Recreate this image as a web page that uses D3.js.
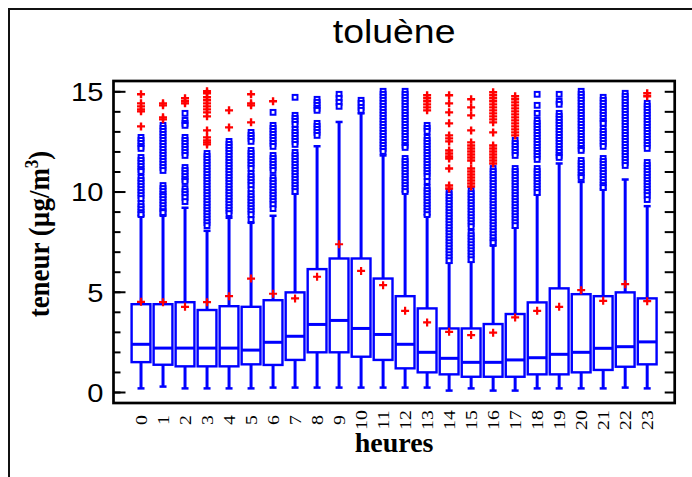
<!DOCTYPE html>
<html>
<head>
<meta charset="utf-8">
<script src="https://cdn.jsdelivr.net/npm/d3@7"></script>
<style>
  html, body { margin: 0; padding: 0; background: #fff; }
  svg { display: block; }
</style>
</head>
<body>
<script>
// Hourly toluene concentrations (µg/m³): box-and-whisker summary per hour of day
const hours = ["0","1","2","3","4","5","6","7","8","9","10","11","12","13","14","15","16","17","18","19","20","21","22","23"];

const whiskerLow  = [0.18,0.27,0.18,0.18,0.18,0.18,0.22,0.22,0.22,0.22,0.22,0.22,0.22,0.22,0.07,0.18,0.07,0.07,0.18,0.18,0.18,0.18,0.22,0.18];
const q1          = [1.49,1.36,1.28,1.28,1.28,1.38,1.35,1.60,1.98,1.98,1.76,1.60,1.18,0.98,0.88,0.76,0.76,0.76,0.88,0.88,0.98,1.10,1.26,1.38];
const median      = [2.38,2.19,2.19,2.19,2.19,2.09,2.48,2.78,3.37,3.57,3.17,2.87,2.38,1.98,1.68,1.48,1.48,1.60,1.71,1.88,1.98,2.18,2.26,2.50];
const q3          = [4.38,4.38,4.48,4.09,4.28,4.25,4.58,4.97,6.13,6.66,6.66,5.66,4.78,4.17,3.17,3.17,3.39,3.89,4.47,5.17,4.88,4.78,4.97,4.67];
const whiskerHigh = [8.79,8.79,9.19,8.04,8.69,8.44,8.79,9.90,12.26,13.47,13.90,11.80,9.98,8.82,6.45,6.50,7.30,8.20,9.85,11.40,10.48,10.10,10.60,9.27];
const means       = [4.50,4.48,4.25,4.48,4.78,5.66,4.90,4.67,5.75,7.37,6.04,5.33,4.05,3.47,3.00,2.84,2.96,3.72,4.05,4.25,5.08,4.55,5.38,4.53];

// outliers beyond 1.5 IQR (hollow squares)
const outliers = [
  [12.7,12.55,12.4,12.25,12.15,11.7,11.55,11.4,11.25,11.1,11.0,10.7,10.55,10.4,10.25,10.1,9.95,9.8,9.65,9.4,9.25,9.1,8.95,8.85],
  [13.3,13.15,13.0,12.85,12.7,12.55,12.4,12.25,12.1,11.95,11.8,11.65,11.5,11.35,11.2,11.05,10.3,10.15,10.0,9.85,9.75,9.6,9.45,9.3,9.15,9.0,8.95],
  [13.9,13.55,13.4,13.3,12.7,12.55,12.4,12.25,12.1,11.95,11.8,11.2,11.05,10.9,10.75,10.6,10.5,10.15,10.0,9.85,9.7,9.5],
  [11.9,11.75,11.6,11.45,11.3,11.15,11.0,10.85,10.7,10.55,10.4,10.25,10.1,9.95,9.8,9.65,9.5,9.35,9.2,9.05,8.9,8.75,8.6,8.45,8.3],
  [12.5,12.35,12.2,12.05,11.9,11.75,11.6,11.45,11.3,11.15,11.0,10.85,10.7,10.55,10.4,10.25,10.1,9.95,9.8,9.65,9.5,9.35,9.2,9.05,8.9],
  [12.95,12.8,12.65,12.5,12.05,11.9,11.75,11.6,11.45,11.3,11.15,10.9,10.75,10.6,10.45,10.3,10.1,9.9,9.75,9.6,9.45,9.3,9.15,9.0,8.85,8.6],
  [13.95,13.3,13.15,13.0,12.85,12.7,12.55,12.4,12.25,11.8,11.65,11.5,11.35,11.2,11.05,10.7,10.55,10.4,10.25,10.1,9.95,9.8,9.65,9.5,9.35,9.15],
  [14.7,13.8,13.65,13.5,13.35,13.1,12.95,12.8,12.65,12.5,12.35,11.95,11.8,11.65,11.5,11.35,11.2,11.05,10.9,10.75,10.6,10.45,10.3,10.15,10.0],
  [14.6,14.45,14.3,14.15,14.05,13.4,13.25,13.1,12.95,12.8],
  [14.85,14.65,14.45,14.25],
  [14.55,14.4,14.2,14.05],
  [15.0,14.85,14.7,14.55,14.4,14.25,14.1,13.95,13.8,13.65,13.5,13.35,13.2,13.05,12.9,12.75,12.6,12.45,12.3,12.15,12.0],
  [15.0,14.85,14.7,14.55,14.4,14.25,14.1,13.95,13.8,13.65,13.5,13.35,13.2,13.05,12.9,12.75,12.6,12.45,12.3,12.2,11.65,11.5,11.35,11.2,11.05,10.9,10.75,10.6,10.45,10.3,10.15,10.0],
  [13.3,13.15,13.0,12.7,12.55,12.4,12.25,12.1,11.95,11.8,11.65,11.5,11.35,11.2,11.05,10.9,10.75,10.5,10.2,10.05,9.9,9.75,9.6,9.45,9.3,9.15,9.0,8.85],
  [10.0,9.85,9.7,9.55,9.4,9.25,9.1,8.95,8.8,8.65,8.5,8.35,8.2,8.05,7.9,7.75,7.6,7.45,7.3,7.15,7.0,6.85,6.7,6.55],
  [10.05,9.9,9.75,9.6,9.45,9.3,9.15,9.0,8.85,8.7,8.55,8.4,8.25,7.95,7.8,7.65,7.5,7.35,7.2,7.05,6.9,6.75,6.6],
  [11.15,11.0,10.85,10.7,10.55,10.4,10.25,10.1,9.95,9.8,9.65,9.5,9.35,9.2,9.05,8.9,8.75,8.6,8.45,8.3,8.15,8.0,7.85,7.7,7.55,7.45],
  [12.55,12.4,12.25,12.1,11.95,11.8,11.15,11.0,10.85,10.7,10.55,10.4,10.25,10.1,9.95,9.8,9.65,9.5,9.35,9.2,9.05,8.9,8.75,8.6,8.45,8.3],
  [14.85,14.3,13.9,13.55,13.4,13.25,13.1,12.95,12.8,12.65,12.5,12.35,12.2,12.05,11.9,11.75,11.6,11.15,11.0,10.85,10.7,10.55,10.4,10.25,10.1,9.95],
  [14.85,14.5,14.35,13.9,13.75,13.6,13.45,13.3,13.15,13.0,12.85,12.7,12.55,12.4,12.25,12.1,11.95,11.8,11.7],
  [15.0,14.85,14.7,14.55,14.4,14.25,14.1,13.95,13.8,13.65,13.5,13.35,13.2,13.05,12.9,12.75,12.6,12.45,12.3,12.15,12.05,11.55,11.4,11.25,11.1,10.95,10.8,10.7],
  [14.7,14.55,14.4,14.25,14.1,13.95,13.8,13.65,13.5,13.4,13.15,13.0,12.85,12.7,12.55,12.4,12.25,11.65,11.5,11.35,11.2,11.05,10.9,10.75,10.6,10.45,10.3,10.2],
  [14.9,14.75,14.6,14.45,14.3,14.15,14.0,13.85,13.7,13.55,13.4,13.25,13.1,12.95,12.8,12.65,12.5,12.35,12.2,12.05,11.9,11.75,11.6,11.45,11.3],
  [14.4,14.25,14.1,13.95,13.8,13.65,13.5,13.35,13.2,13.05,12.9,12.75,12.6,12.45,12.3,12.15,11.45,11.3,11.15,11.0,10.85,10.7,10.55,10.4,10.25,10.1,9.95,9.8,9.6]
];

// extreme outliers beyond 3 IQR (red crosses)
const farOutliers = [
  [13.25,14.0,14.1,14.25,14.4,14.85],
  [13.6,13.7,14.3,14.4],
  [14.4,14.5,14.65],
  [15.0,14.9,14.7,14.55,14.4,14.25,14.1,13.95,13.75,13.05,12.7,12.55,12.45,12.35],
  [14.05,13.2],
  [14.85,14.4,14.3,13.45],
  [14.5],
  [], [], [], [], [],
  [],
  [14.8,14.65,14.5,14.35,14.2,14.05],
  [14.8,14.4,13.95,13.4,12.8,12.65,12.5,12.05,11.9,11.75,11.65,11.15,10.3,10.15],
  [14.6,14.2,13.8,13.05,12.45,12.3,12.15,12.0,11.85,11.7,11.55,11.15,11.0,10.85,10.7,10.55,10.4,10.25],
  [14.95,14.8,14.65,14.5,14.35,14.2,14.05,13.9,13.75,13.6,13.45,12.95,12.3,12.15,12.0,11.85,11.7,11.55,11.4],
  [14.75,14.6,14.45,14.3,14.15,14.0,13.85,13.7,13.55,13.4,13.25,13.1,12.95,12.8],
  [], [], [], [], [],
  [14.9,14.75]
];

const yMajor = [0, 5, 10, 15];
const yMinor = d3.range(0, 16);

const W = 692, H = 477;
const BLUE = "#0000ff", RED = "#ff0000";
const plot = { left: 113.5, right: 674.7, top: 81, bottom: 403 };

const svg = d3.select("body").append("svg")
  .attr("width", W).attr("height", H);

// outer frame
svg.append("rect")
  .attr("x", 9).attr("y", 9).attr("width", 720).attr("height", 520)
  .attr("fill", "none").attr("stroke", "#111").attr("stroke-width", 2);

const x = d3.scaleBand().domain(hours)
  .range([plot.left, plot.right])
  .paddingInner(0.1).paddingOuter(0.8);
const y = d3.scaleLinear().domain([0, 15]).range([392, 91.3]);

const bw = x.bandwidth();
const cx = i => x(hours[i]) + bw / 2;

// title
svg.append("text")
  .attr("transform", `translate(${(plot.left + plot.right) / 2},43) scale(1.1,1)`)
  .attr("text-anchor", "middle")
  .attr("font-family", "Liberation Sans, Arial, sans-serif")
  .attr("font-size", 34)
  .text("toluène");

const g = svg.append("g");

// whiskers
hours.forEach((h, i) => {
  g.append("line")
    .attr("x1", cx(i)).attr("x2", cx(i))
    .attr("y1", y(whiskerLow[i])).attr("y2", y(whiskerHigh[i]))
    .attr("stroke", BLUE).attr("stroke-width", 3);
  [whiskerLow[i], whiskerHigh[i]].forEach(v => {
    g.append("line")
      .attr("x1", cx(i) - 3.5).attr("x2", cx(i) + 3.5)
      .attr("y1", y(v)).attr("y2", y(v))
      .attr("stroke", BLUE).attr("stroke-width", 2.5);
  });
});

// boxes
g.selectAll("rect.box").data(hours).join("rect")
  .attr("class", "box")
  .attr("x", (d, i) => x(d) + 0.5)
  .attr("width", bw - 1)
  .attr("y", (d, i) => y(q3[i]))
  .attr("height", (d, i) => y(q1[i]) - y(q3[i]))
  .attr("fill", "#fff").attr("stroke", BLUE).attr("stroke-width", 2.4);

// medians
g.selectAll("line.med").data(hours).join("line")
  .attr("class", "med")
  .attr("x1", (d) => x(d) + 0.5).attr("x2", (d) => x(d) + bw - 0.5)
  .attr("y1", (d, i) => y(median[i])).attr("y2", (d, i) => y(median[i]))
  .attr("stroke", BLUE).attr("stroke-width", 3);

// near outliers
hours.forEach((h, i) => {
  g.selectAll(null).data(outliers[i]).join("rect")
    .attr("x", cx(i) - 2.4).attr("y", v => y(v) - 2.4)
    .attr("width", 4.8).attr("height", 4.8)
    .attr("fill", "#fff").attr("stroke", BLUE).attr("stroke-width", 2);
});

// cross marker
const cross = (sel, px, py, s, w) => {
  sel.append("path")
    .attr("d", `M${px - s},${py}H${px + s}M${px},${py - s}V${py + s}`)
    .attr("stroke", RED).attr("stroke-width", w).attr("fill", "none");
};

// far outliers
hours.forEach((h, i) => {
  farOutliers[i].forEach(v => cross(g, cx(i), y(v), 4, 2.4));
});

// means
hours.forEach((h, i) => cross(g, cx(i), y(means[i]), 4, 2.2));

// axes ticks (inward) on left and right
const leftMinor = svg.append("g").attr("transform", `translate(${plot.left},0)`)
  .call(d3.axisLeft(y).tickValues(yMinor).tickSize(-7).tickFormat(""));
const leftMajor = svg.append("g").attr("transform", `translate(${plot.left},0)`)
  .call(d3.axisLeft(y).tickValues(yMajor).tickSize(-12).tickPadding(9).tickFormat(d3.format("d")));
const rightMinor = svg.append("g").attr("transform", `translate(${plot.right},0)`)
  .call(d3.axisRight(y).tickValues(yMinor).tickSize(-10).tickFormat(""));

[leftMinor, leftMajor, rightMinor].forEach(a => {
  a.select(".domain").remove();
  a.selectAll(".tick line").attr("stroke", "#000").attr("stroke-width", 2);
});
leftMajor.selectAll(".tick text")
  .attr("font-family", "Liberation Sans, Arial, sans-serif")
  .attr("font-size", 26)
  .attr("fill", "#000")
  .attr("dy", "0.36em")
  .attr("transform", "scale(1.12,1)");

// plot frame
svg.append("rect")
  .attr("x", plot.left).attr("y", plot.top)
  .attr("width", plot.right - plot.left).attr("height", plot.bottom - plot.top)
  .attr("fill", "none").attr("stroke", "#000").attr("stroke-width", 2.7);

// hour labels
svg.append("g").selectAll("text").data(hours).join("text")
  .attr("transform", (d, i) => `translate(${cx(i)},420) rotate(-90) scale(1.2,1)`)
  .attr("text-anchor", "middle")
  .attr("dy", "0.35em")
  .attr("font-family", "Liberation Serif, Times New Roman, serif")
  .attr("font-size", 16.5)
  .text(d => d);

// axis titles
svg.append("text")
  .attr("x", (plot.left + plot.right) / 2).attr("y", 452)
  .attr("text-anchor", "middle")
  .attr("font-family", "Liberation Serif, Times New Roman, serif")
  .attr("font-weight", "bold")
  .attr("font-size", 28)
  .text("heures");

const yt = svg.append("text")
  .attr("transform", "translate(49,234) scale(1.12,1) rotate(-90)")
  .attr("text-anchor", "middle")
  .attr("font-family", "Liberation Serif, Times New Roman, serif")
  .attr("font-weight", "bold")
  .attr("font-size", 27);
yt.append("tspan").text("teneur (µg/m");
yt.append("tspan").attr("font-size", 17).attr("dy", -10).text("3");
yt.append("tspan").attr("dy", 10).text(")");
</script>
</body>
</html>
